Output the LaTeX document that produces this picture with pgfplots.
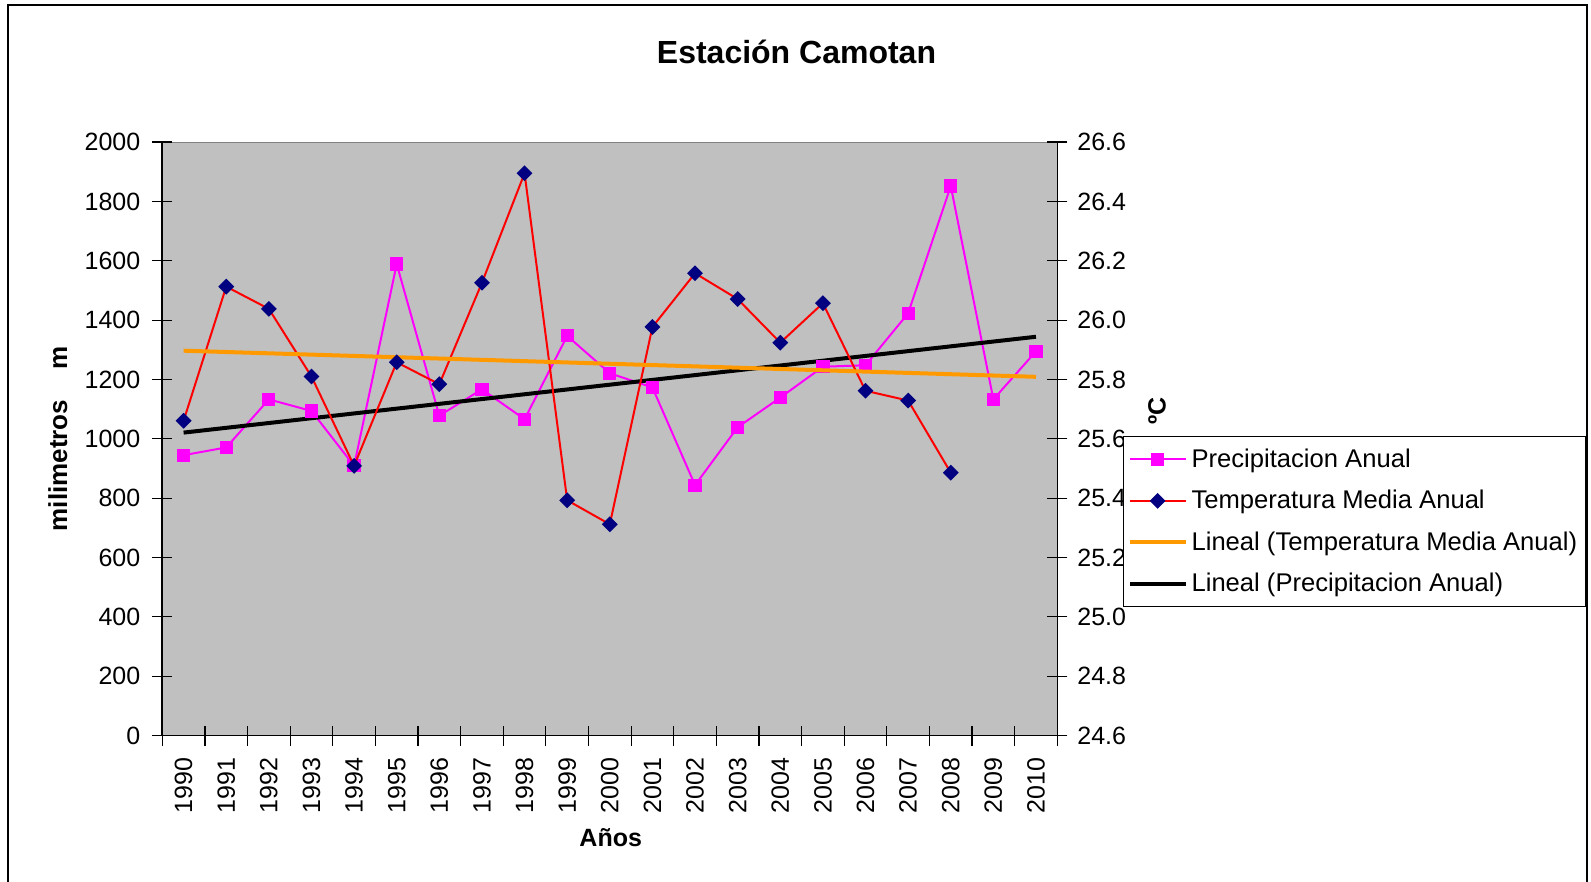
\documentclass[border=0pt]{standalone}
\usepackage{fontspec}
\setmainfont{Liberation Sans}
\usepackage{pgfplots}
\pgfplotsset{compat=1.18}

\definecolor{plotgrey}{HTML}{C0C0C0}
\definecolor{navy}{HTML}{000080}
\definecolor{precip}{HTML}{FF00FF}
\definecolor{trendorange}{HTML}{FF9900}

\pgfplotsset{
  camotan/.style={
    scale only axis, width=447.5pt, height=296.75pt,
    at={(81.15pt,73.2pt)}, anchor=south west,
    xmin=-0.5, xmax=20.5,
    font=\fontsize{12.5}{15}\selectfont,
    label style={font=\bfseries\fontsize{12.5}{15}\selectfont},
    tick align=center, major tick length=10pt,
    tick style={black, line width=0.6pt},
    axis line style={black, line width=0.8pt},
    /pgf/number format/assume math mode=true,
    /pgf/number format/1000 sep={},
  },
}

\begin{document}
\begin{tikzpicture}
\useasboundingbox (0,0) rectangle (795.5pt,441pt);
\clip (0,0) rectangle (795.5pt,441pt);
\draw[line width=0.8pt] (4pt,-20pt) rectangle (793.5pt,438.5pt);
\node[font=\bfseries\fontsize{16}{19}\selectfont, anchor=base] at (398.25pt,409pt) {Estación Camotan};

% precipitacion (eje izquierdo)
\begin{axis}[camotan,
    axis background/.style={fill=plotgrey, draw=gray},
    axis x line*=bottom, axis y line*=left,
    ymin=0, ymax=2000, ytick={0,200,...,2000},
    xtick={-0.5,0.5,...,20.5},
    x tick label as interval,
    xticklabels={1990,1991,1992,1993,1994,1995,1996,1997,1998,1999,2000,
                 2001,2002,2003,2004,2005,2006,2007,2008,2009,2010},
    xticklabel style={rotate=90, anchor=east, xshift=-2.5pt},
    yticklabel style={xshift=-2.5pt},
    xlabel={Años},
    xlabel style={at={(axis description cs:0.501,-0.1727)}, anchor=center},
    ylabel={milimetros\hspace{15pt}m},
    ylabel style={at={(axis description cs:-0.1168,0.5)}, anchor=center,
                  font=\bfseries\fontsize{13}{15}\selectfont},
  ]
  \addplot[precip, line width=1pt, mark=square*, mark size=2.8pt,
           mark options={fill=precip, draw=precip}]
    coordinates {
      (0,945)(1,971)(2,1133)(3,1094)(4,909)(5,1589)(6,1078)(7,1167)
      (8,1066)(9,1347)(10,1221)(11,1173)(12,844)(13,1039)(14,1139)
      (15,1243)(16,1248)(17,1423)(18,1852)(19,1133)(20,1295)
    };
  \addplot[black, line width=2pt] coordinates {(0,1021)(20,1344)};
\end{axis}

% temperatura (eje derecho)
\begin{axis}[camotan,
    axis x line=none, axis y line*=right,
    ymin=24.6, ymax=26.6,
    ytick={24.6,24.8,25.0,25.2,25.4,25.6,25.8,26.0,26.2,26.4,26.6},
    yticklabel style={xshift=1.5pt, /pgf/number format/.cd, fixed, fixed zerofill, precision=1},
    ylabel={ºC},
    ylabel style={at={(axis description cs:1.1114,0.547)}, anchor=center},
    legend cell align=left,
    legend image code/.code={
      \draw[mark repeat=2, mark phase=2, #1] plot coordinates {(0pt,0pt)(14pt,0pt)(28pt,0pt)};
    },
    legend style={at={(1.0734,0.5048)}, anchor=north west, draw=black, fill=white,
      line width=0.6pt, font=\fontsize{12.8}{15}\selectfont,
      inner xsep=2pt, inner ysep=4pt, nodes={inner sep=2pt}, row sep=6pt},
  ]
  \addlegendimage{precip, line width=1pt, mark=square*, mark size=2.8pt,
                  mark options={fill=precip, draw=precip}}
  \addlegendentry{Precipitacion Anual}
  \addplot[red, line width=1pt, mark=square*, mark size=2.3pt,
           mark options={rotate=45, fill=navy, draw=navy}]
    coordinates {
      (0,25.661)(1,26.113)(2,26.038)(3,25.810)(4,25.509)(5,25.858)
      (6,25.784)(7,26.126)(8,26.495)(9,25.393)(10,25.312)(11,25.977)
      (12,26.158)(13,26.071)(14,25.924)(15,26.057)(16,25.762)(17,25.729)
      (18,25.486)
    };
  \addlegendentry{Temperatura Media Anual}
  \addplot[trendorange, line width=2pt] coordinates {(0,25.897)(20,25.809)};
  \addlegendentry{Lineal (Temperatura Media Anual)}
  \addlegendimage{black, line width=2pt}
  \addlegendentry{Lineal (Precipitacion Anual)}
\end{axis}
\end{tikzpicture}
\end{document}
